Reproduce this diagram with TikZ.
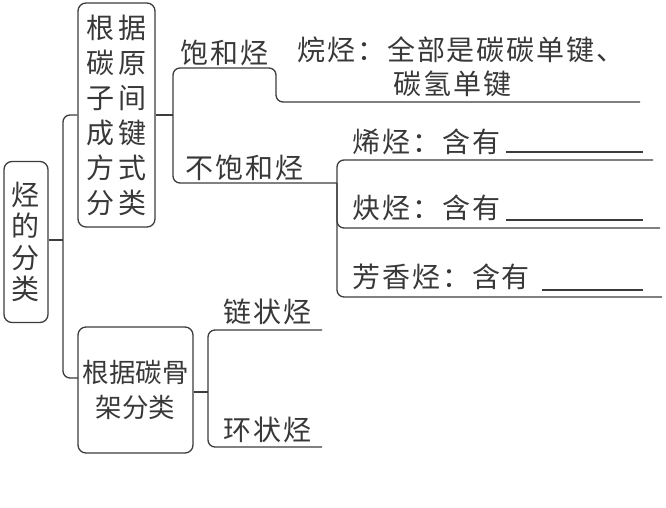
\documentclass[tikz,border=0pt]{standalone}
\usepackage{fontspec}
\setmainfont{Noto Sans CJK SC}[LetterSpace=7]
\newfontfamily\tightcjk{Noto Sans CJK SC}
\definecolor{ink}{HTML}{383838}
\definecolor{wire}{HTML}{3C3C3C}
\tikzset{
  box/.style={draw=wire, line width=1.3pt, rounded corners=8pt, inner sep=0pt, text=ink},
  lbl/.style={inner sep=0pt, text=ink, anchor=west},
  conn/.style={draw=wire, line width=1.3pt, rounded corners=7pt},
}
\begin{document}
\begin{tikzpicture}[x=1pt,y=-1pt, font=\fontsize{28}{31}\selectfont]
\useasboundingbox (0,0) rectangle (666,507);
% boxes
\node[box, minimum width=44pt, minimum height=161pt, align=center,
  font=\tightcjk\fontsize{28}{31.5}\selectfont] (root) at (26,242)
  {烃\\的\\分\\类};
\node[box, minimum width=77pt, minimum height=224pt, align=center,
  font=\tightcjk\fontsize{28}{35}\selectfont] (bond) at (116.5,115)
  {根\hspace{5pt}据\\碳\hspace{5pt}原\\子\hspace{5pt}间\\成\hspace{5pt}键\\方\hspace{5pt}式\\分\hspace{5pt}类};
\node[box, minimum width=115pt, minimum height=126pt, align=center,
  font=\tightcjk\fontsize{26.5}{35}\selectfont] (skel) at (135.5,390)
  {根据碳骨\\架分类};
% labels
\node[lbl] (sat) at (180,53) {饱和烃};
\node[lbl] (unsat) at (185,168) {不饱和烃};
\node[lbl] (alk) at (297,50) {烷烃：全部是碳碳单键、};
\node[lbl] (alk2) at (393,84) {碳氢单键};
\node[lbl] (ene) at (352,142) {烯烃：含有};
\node[lbl] (yne) at (352,208) {炔烃：含有};
\node[lbl] (aro) at (352,277) {芳香烃：含有};
\node[lbl] (chain) at (223,312) {链状烃};
\node[lbl] (ring) at (223,430) {环状烃};
% junction coordinates
\coordinate (j0) at (63,240);
\coordinate (j0t) at (63,115);
\coordinate (j0b) at (63,378);
\coordinate (b1) at (78,378);
\coordinate (j1) at (173,115);
\coordinate (j1t) at (173,68);
\coordinate (st1) at (276,68);
\coordinate (st2) at (276,102);
\coordinate (satE) at (640,102);
\coordinate (j1b) at (173,183);
\coordinate (j2) at (337,183);
\coordinate (j2t) at (337,160);
\coordinate (j2m) at (337,228);
\coordinate (j2b) at (337,297);
\coordinate (eneE) at (653,160);
\coordinate (yneE) at (660,228);
\coordinate (aroE) at (662,297);
\coordinate (j3) at (208,392);
\coordinate (j3t) at (208,330);
\coordinate (j3b) at (208,447);
\coordinate (chE) at (322,330);
\coordinate (rgE) at (322,447);
% connectors
\draw[conn] (root.east |- j0) -- (j0);
\draw[conn] (bond.west) -- (j0t) -- (j0b) -- (b1);
\draw[conn] (bond.east) -- (j1);
\draw[conn] (satE) -- (st2) -- (st1) -- (j1t) -- (j1b) -- (j2);
\draw[conn] (eneE) -- (j2t) -- (j2b) -- (aroE);
\draw[conn] (j2) -- (j2m) -- (yneE);
\draw[conn] (skel.east |- j3) -- (j3);
\draw[conn] (chE) -- (j3t) -- (j3b) -- (rgE);
% blanks
\draw[draw=wire, line width=1.2pt] (506,152) -- (643,152);
\draw[draw=wire, line width=1.2pt] (506,220) -- (643,220);
\draw[draw=wire, line width=1.2pt] (542,290) -- (643,290);
\end{tikzpicture}
\end{document}
